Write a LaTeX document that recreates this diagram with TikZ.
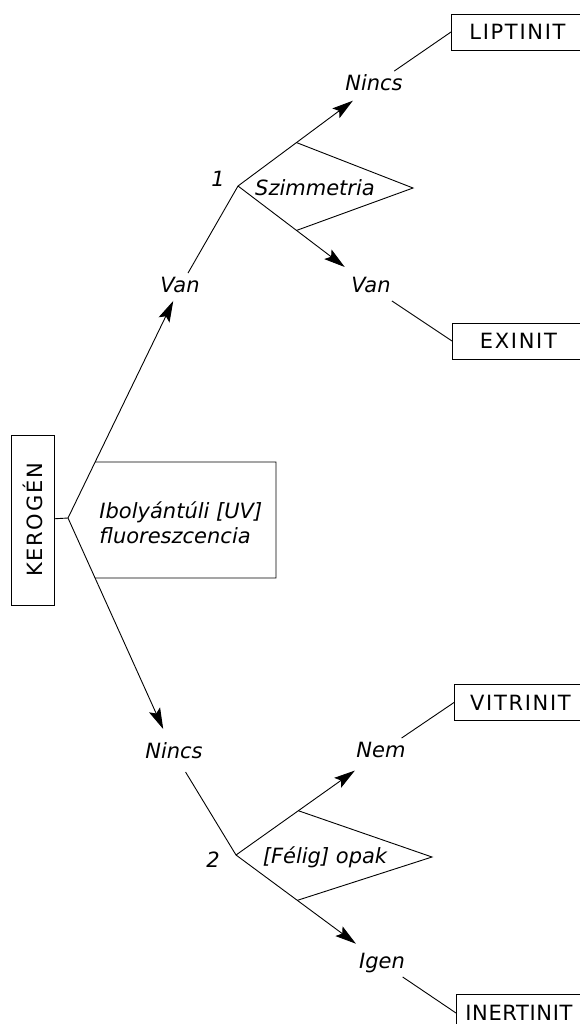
\documentclass[tikz,border=0pt]{standalone}
\usepackage{fontspec}
\setmainfont{DejaVu Sans}
\newfontfamily\capsfont[LetterSpace=8]{DejaVu Sans}
\newfontfamily\tightcaps[LetterSpace=3]{DejaVu Sans}
\usetikzlibrary{arrows.meta,calc}
\begin{document}
\begin{tikzpicture}[x=1pt,y=-1pt,line width=0.9pt,
  lbl/.style={font=\fontsize{21}{25}\selectfont\itshape,inner sep=5pt,text height=14pt,text depth=3pt},
  res/.style={draw,anchor=west,font=\fontsize{21}{25}\selectfont\capsfont,minimum height=36pt,minimum width=132pt,inner sep=0pt},
  arr/.style={-{Stealth[length=21pt,width=12pt,inset=4pt]}},
  ]
\useasboundingbox (0,0) rectangle (580,1024);
% root
\node[draw,rotate=90,minimum width=170pt,minimum height=43pt,inner sep=0pt,
  font=\fontsize{21}{25}\selectfont\capsfont] (ker) at (32.5,520) {KEROGÉN};
\coordinate (B) at (68,518);
\draw (ker) -- (B);
% labels
\node[lbl] (van1) at (180,287) {Van};
\node[lbl] (nincs2) at (174,753) {Nincs};
\node[lbl] (nincs1) at (374,85) {Nincs};
\node[lbl] (van2) at (371,287) {Van};
\node[lbl] (nem) at (381,752) {Nem};
\node[lbl] (igen) at (382,963) {Igen};
\node[lbl,inner sep=0pt] (one) at (218,181) {1};
\node[lbl,inner sep=0pt] (two) at (213,862) {2};
% results
\node[res] (lip) at (451,32) {LIPTINIT};
\node[res] (exi) at (452,341) {EXINIT};
\node[res] (vit) at (454,702.5) {VITRINIT};
\node[res,font=\fontsize{21}{25}\selectfont\tightcaps,minimum width=125pt,minimum height=38pt] (ine) at (456,1013) {INERTINIT};
% main branches
\draw[arr] (B) -- (van1);
\draw[arr,shorten >=11pt] (B) -- (nincs2);
\coordinate (uvT) at ($(B)!0.2424!(van1)$);
\coordinate (uvB) at ($(B)!0.2553!(nincs2)$);
\draw (uvT) -- (276,462) -- (276,578) -- (uvB);
\node[font=\fontsize{21}{25}\selectfont\itshape,align=left,anchor=west,inner sep=0pt] (uv) at (99,523)
  {Ibolyántúli [UV]\\fluoreszcencia};
% upper decision
\coordinate (J1) at (238,186);
\draw (van1) -- (J1);
\draw[arr,shorten >=3pt] (J1) -- (nincs1);
\draw[arr,shorten >=10pt] (J1) -- (van2);
\coordinate (c1) at ($(J1)!0.43!(nincs1)$);
\coordinate (c2) at ($(J1)!0.44!(van2)$);
\coordinate (a1) at (413,188);
\draw (c1) -- (a1) -- (c2);
\node[font=\fontsize{21}{25}\selectfont\itshape,inner sep=0pt] (sym) at (315,188) {Szimmetria};
\draw (nincs1) -- (lip.west);
\draw (van2) -- (exi.west);
% lower decision
\coordinate (J2) at (236,855);
\draw[shorten <=6pt] (nincs2) -- (J2);
\draw[arr,shorten >=8pt] (J2) -- (nem);
\draw[arr,shorten >=9pt] (J2) -- (igen);
\coordinate (c3) at ($(J2)!0.43!(nem)$);
\coordinate (c4) at ($(J2)!0.42!(igen)$);
\coordinate (a2) at (432,857);
\draw (c3) -- (a2) -- (c4);
\node[font=\fontsize{21}{25}\selectfont\itshape,inner sep=0pt] (opak) at (325,857) {[Félig] opak};
\draw (nem) -- (vit.west);
\draw (igen) -- (ine.west);
\end{tikzpicture}
\end{document}
